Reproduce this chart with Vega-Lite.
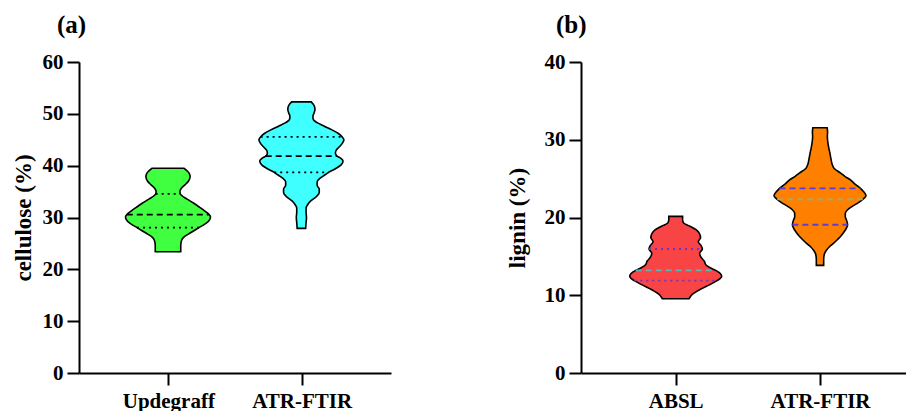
{
  "$schema": "https://vega.github.io/schema/vega-lite/v6.json",
  "background": "white",
  "padding": {"left": 12, "top": 12, "right": 0, "bottom": 0},
  "bounds": "flush",
  "spacing": 190,
  "config": {
    "view": {"stroke": null},
    "font": "Liberation Serif",
    "axis": {
      "grid": false,
      "domainColor": "black",
      "domainWidth": 2,
      "tickColor": "black",
      "tickWidth": 2,
      "tickSize": 12,
      "labelColor": "black",
      "titleColor": "black",
      "labelFont": "Liberation Serif",
      "titleFont": "Liberation Serif",
      "labelFontWeight": "bold",
      "titleFontWeight": "bold",
      "labelFontSize": 21,
      "titleFontSize": 23
    },
    "title": {
      "font": "Liberation Serif",
      "fontSize": 25,
      "fontWeight": "bold",
      "color": "black",
      "anchor": "start",
      "frame": "group",
      "baseline": "alphabetic"
    }
  },
  "datasets": {
    "cellulose": [
      {"method": "Updegraff", "value": 23.4, "density": 0.30},
      {"method": "Updegraff", "value": 24.5, "density": 0.30},
      {"method": "Updegraff", "value": 25.3, "density": 0.31},
      {"method": "Updegraff", "value": 25.9, "density": 0.34},
      {"method": "Updegraff", "value": 26.4, "density": 0.40},
      {"method": "Updegraff", "value": 27.0, "density": 0.52},
      {"method": "Updegraff", "value": 27.5, "density": 0.62},
      {"method": "Updegraff", "value": 28.05, "density": 0.73, "stat": "quartile"},
      {"method": "Updegraff", "value": 28.9, "density": 0.90},
      {"method": "Updegraff", "value": 29.6, "density": 0.98},
      {"method": "Updegraff", "value": 30.1, "density": 1.0},
      {"method": "Updegraff", "value": 30.55, "density": 0.97, "stat": "median"},
      {"method": "Updegraff", "value": 31.3, "density": 0.86},
      {"method": "Updegraff", "value": 32.0, "density": 0.74},
      {"method": "Updegraff", "value": 32.8, "density": 0.60},
      {"method": "Updegraff", "value": 33.6, "density": 0.44},
      {"method": "Updegraff", "value": 34.2, "density": 0.33},
      {"method": "Updegraff", "value": 34.55, "density": 0.29, "stat": "quartile"},
      {"method": "Updegraff", "value": 35.0, "density": 0.28},
      {"method": "Updegraff", "value": 35.6, "density": 0.31},
      {"method": "Updegraff", "value": 36.3, "density": 0.40},
      {"method": "Updegraff", "value": 37.0, "density": 0.48},
      {"method": "Updegraff", "value": 37.8, "density": 0.52},
      {"method": "Updegraff", "value": 38.5, "density": 0.50},
      {"method": "Updegraff", "value": 39.0, "density": 0.45},
      {"method": "Updegraff", "value": 39.5, "density": 0.38},
      {"method": "ATR-FTIR", "value": 27.9, "density": 0.10},
      {"method": "ATR-FTIR", "value": 29.0, "density": 0.11},
      {"method": "ATR-FTIR", "value": 30.0, "density": 0.12},
      {"method": "ATR-FTIR", "value": 31.0, "density": 0.11},
      {"method": "ATR-FTIR", "value": 31.8, "density": 0.11},
      {"method": "ATR-FTIR", "value": 32.5, "density": 0.15},
      {"method": "ATR-FTIR", "value": 33.2, "density": 0.22},
      {"method": "ATR-FTIR", "value": 34.0, "density": 0.35},
      {"method": "ATR-FTIR", "value": 34.8, "density": 0.42},
      {"method": "ATR-FTIR", "value": 35.5, "density": 0.42},
      {"method": "ATR-FTIR", "value": 36.2, "density": 0.37},
      {"method": "ATR-FTIR", "value": 36.9, "density": 0.37},
      {"method": "ATR-FTIR", "value": 37.6, "density": 0.44},
      {"method": "ATR-FTIR", "value": 38.2, "density": 0.55},
      {"method": "ATR-FTIR", "value": 38.7, "density": 0.64, "stat": "quartile"},
      {"method": "ATR-FTIR", "value": 39.4, "density": 0.80},
      {"method": "ATR-FTIR", "value": 40.2, "density": 0.94},
      {"method": "ATR-FTIR", "value": 40.9, "density": 0.98},
      {"method": "ATR-FTIR", "value": 41.4, "density": 0.93},
      {"method": "ATR-FTIR", "value": 41.85, "density": 0.84, "stat": "median"},
      {"method": "ATR-FTIR", "value": 42.4, "density": 0.80},
      {"method": "ATR-FTIR", "value": 43.0, "density": 0.82},
      {"method": "ATR-FTIR", "value": 43.7, "density": 0.90},
      {"method": "ATR-FTIR", "value": 44.4, "density": 0.97},
      {"method": "ATR-FTIR", "value": 45.0, "density": 1.0},
      {"method": "ATR-FTIR", "value": 45.55, "density": 0.96, "stat": "quartile"},
      {"method": "ATR-FTIR", "value": 46.2, "density": 0.87},
      {"method": "ATR-FTIR", "value": 46.9, "density": 0.72},
      {"method": "ATR-FTIR", "value": 47.6, "density": 0.54},
      {"method": "ATR-FTIR", "value": 48.3, "density": 0.37},
      {"method": "ATR-FTIR", "value": 48.9, "density": 0.28},
      {"method": "ATR-FTIR", "value": 49.5, "density": 0.27},
      {"method": "ATR-FTIR", "value": 50.2, "density": 0.30},
      {"method": "ATR-FTIR", "value": 50.9, "density": 0.32},
      {"method": "ATR-FTIR", "value": 51.6, "density": 0.30},
      {"method": "ATR-FTIR", "value": 52.3, "density": 0.23}
    ],
    "lignin": [
      {"method": "ABSL", "value": 9.55, "density": 0.29},
      {"method": "ABSL", "value": 10.1, "density": 0.36},
      {"method": "ABSL", "value": 10.7, "density": 0.52},
      {"method": "ABSL", "value": 11.3, "density": 0.72},
      {"method": "ABSL", "value": 11.87, "density": 0.90, "stat": "quartile"},
      {"method": "ABSL", "value": 12.4, "density": 1.0},
      {"method": "ABSL", "value": 12.8, "density": 0.97},
      {"method": "ABSL", "value": 13.2, "density": 0.87, "stat": "median"},
      {"method": "ABSL", "value": 13.5, "density": 0.76},
      {"method": "ABSL", "value": 13.9, "density": 0.66},
      {"method": "ABSL", "value": 14.4, "density": 0.62},
      {"method": "ABSL", "value": 14.9, "density": 0.55},
      {"method": "ABSL", "value": 15.4, "density": 0.52},
      {"method": "ABSL", "value": 15.95, "density": 0.58, "stat": "quartile"},
      {"method": "ABSL", "value": 16.4, "density": 0.55},
      {"method": "ABSL", "value": 16.9, "density": 0.49},
      {"method": "ABSL", "value": 17.4, "density": 0.54},
      {"method": "ABSL", "value": 17.9, "density": 0.52},
      {"method": "ABSL", "value": 18.4, "density": 0.45},
      {"method": "ABSL", "value": 18.9, "density": 0.30},
      {"method": "ABSL", "value": 19.3, "density": 0.17},
      {"method": "ABSL", "value": 19.7, "density": 0.15},
      {"method": "ABSL", "value": 20.15, "density": 0.15},
      {"method": "ATR-FTIR", "value": 13.84, "density": 0.08},
      {"method": "ATR-FTIR", "value": 14.6, "density": 0.08},
      {"method": "ATR-FTIR", "value": 15.3, "density": 0.095},
      {"method": "ATR-FTIR", "value": 15.8, "density": 0.14},
      {"method": "ATR-FTIR", "value": 16.2, "density": 0.20},
      {"method": "ATR-FTIR", "value": 16.6, "density": 0.28},
      {"method": "ATR-FTIR", "value": 17.1, "density": 0.37},
      {"method": "ATR-FTIR", "value": 17.6, "density": 0.45},
      {"method": "ATR-FTIR", "value": 18.2, "density": 0.53},
      {"method": "ATR-FTIR", "value": 18.7, "density": 0.58},
      {"method": "ATR-FTIR", "value": 19.07, "density": 0.60, "stat": "quartile"},
      {"method": "ATR-FTIR", "value": 19.6, "density": 0.58},
      {"method": "ATR-FTIR", "value": 20.1, "density": 0.55},
      {"method": "ATR-FTIR", "value": 20.5, "density": 0.55},
      {"method": "ATR-FTIR", "value": 21.0, "density": 0.60},
      {"method": "ATR-FTIR", "value": 21.5, "density": 0.72},
      {"method": "ATR-FTIR", "value": 22.0, "density": 0.86},
      {"method": "ATR-FTIR", "value": 22.33, "density": 0.93, "stat": "median"},
      {"method": "ATR-FTIR", "value": 22.8, "density": 1.0},
      {"method": "ATR-FTIR", "value": 23.3, "density": 0.95},
      {"method": "ATR-FTIR", "value": 23.75, "density": 0.88, "stat": "quartile"},
      {"method": "ATR-FTIR", "value": 24.3, "density": 0.76},
      {"method": "ATR-FTIR", "value": 24.8, "density": 0.67},
      {"method": "ATR-FTIR", "value": 25.3, "density": 0.54},
      {"method": "ATR-FTIR", "value": 25.7, "density": 0.45},
      {"method": "ATR-FTIR", "value": 26.3, "density": 0.31},
      {"method": "ATR-FTIR", "value": 26.75, "density": 0.27},
      {"method": "ATR-FTIR", "value": 27.5, "density": 0.24},
      {"method": "ATR-FTIR", "value": 28.3, "density": 0.215},
      {"method": "ATR-FTIR", "value": 29.0, "density": 0.19},
      {"method": "ATR-FTIR", "value": 29.7, "density": 0.17},
      {"method": "ATR-FTIR", "value": 30.4, "density": 0.16},
      {"method": "ATR-FTIR", "value": 31.0, "density": 0.165},
      {"method": "ATR-FTIR", "value": 31.55, "density": 0.155}
    ]
  },
  "hconcat": [
    {
      "width": 312,
      "height": 311,
      "title": {"text": "(a)", "dx": -22, "offset": 13.3},
      "data": {"name": "cellulose"},
      "resolve": {"scale": {"x": "independent"}},
      "layer": [
        {
          "transform": [
            {"filter": "datum.method == 'Updegraff'"},
            {"stack": "density", "groupby": ["value"], "offset": "center", "as": ["x0", "x1"]}
          ],
          "encoding": {
            "y": {"field": "value", "type": "quantitative",
              "scale": {"domain": [0, 60], "nice": false},
              "axis": {"values": [0, 10, 20, 30, 40, 50, 60], "title": "cellulose (%)", "labelPadding": 4,
                "titleX": -49, "titleY": 155.5, "titleAngle": -90, "titleAlign": "center", "titleBaseline": "alphabetic"}},
            "x": {"field": "x0", "type": "quantitative", "scale": {"domain": [-0.5471, 3.1235], "nice": false, "zero": false}, "axis": null},
            "x2": {"field": "x1"}
          },
          "layer": [
            {"mark": {"type": "area", "orient": "horizontal", "interpolate": "monotone", "fill": "#40FF40", "fillOpacity": 1, "stroke": "black", "strokeWidth": 1.6}},
            {"transform": [{"filter": "datum.stat == 'median'"}], "mark": {"type": "rule", "stroke": "black", "strokeWidth": 1.8, "strokeDash": [6, 4]}},
            {"transform": [{"filter": "datum.stat == 'quartile'"}], "mark": {"type": "rule", "stroke": "black", "strokeWidth": 1.8, "strokeDash": [2, 4]}}
          ]
        },
        {
          "transform": [
            {"filter": "datum.method == 'ATR-FTIR'"},
            {"stack": "density", "groupby": ["value"], "offset": "center", "as": ["x0", "x1"]}
          ],
          "encoding": {
            "y": {"field": "value", "type": "quantitative",
              "scale": {"domain": [0, 60], "nice": false},
              "axis": {"values": [0, 10, 20, 30, 40, 50, 60], "title": "cellulose (%)", "labelPadding": 4,
                "titleX": -49, "titleY": 155.5, "titleAngle": -90, "titleAlign": "center", "titleBaseline": "alphabetic"}},
            "x": {"field": "x0", "type": "quantitative", "scale": {"domain": [-2.1165, 1.5541], "nice": false, "zero": false}, "axis": null},
            "x2": {"field": "x1"}
          },
          "layer": [
            {"mark": {"type": "area", "orient": "horizontal", "interpolate": "monotone", "fill": "#40FFFF", "fillOpacity": 1, "stroke": "black", "strokeWidth": 1.6}},
            {"transform": [{"filter": "datum.stat == 'median'"}], "mark": {"type": "rule", "stroke": "black", "strokeWidth": 1.8, "strokeDash": [6, 4]}},
            {"transform": [{"filter": "datum.stat == 'quartile'"}], "mark": {"type": "rule", "stroke": "black", "strokeWidth": 1.8, "strokeDash": [2, 4]}}
          ]
        },
        {
          "mark": {"type": "point", "opacity": 0},
          "encoding": {
            "x": {"field": "method", "type": "nominal", "sort": ["Updegraff", "ATR-FTIR"],
              "scale": {"type": "point", "padding": 0.67},
              "axis": {"title": null, "labelAngle": 0, "labelPadding": 5, "orient": "bottom"}}
          }
        }
      ]
    },
    {
      "width": 325,
      "height": 311,
      "title": {"text": "(b)", "dx": -25, "offset": 13.3},
      "data": {"name": "lignin"},
      "resolve": {"scale": {"x": "independent"}},
      "layer": [
        {
          "transform": [
            {"filter": "datum.method == 'ABSL'"},
            {"stack": "density", "groupby": ["value"], "offset": "center", "as": ["x0", "x1"]}
          ],
          "encoding": {
            "y": {"field": "value", "type": "quantitative",
              "scale": {"domain": [0, 40], "nice": false},
              "axis": {"values": [0, 10, 20, 30, 40], "title": "lignin (%)", "labelPadding": 4,
                "titleX": -57, "titleY": 155.5, "titleAngle": -90, "titleAlign": "center", "titleBaseline": "alphabetic"}},
            "x": {"field": "x0", "type": "quantitative", "scale": {"domain": [-0.5293, 3.0033], "nice": false, "zero": false}, "axis": null},
            "x2": {"field": "x1"}
          },
          "layer": [
            {"mark": {"type": "area", "orient": "horizontal", "interpolate": "monotone", "fill": "#F84444", "fillOpacity": 1, "stroke": "black", "strokeWidth": 1.6}},
            {"transform": [{"filter": "datum.stat == 'median'"}], "mark": {"type": "rule", "stroke": "#5BB5B5", "strokeWidth": 1.8, "strokeDash": [6, 4]}},
            {"transform": [{"filter": "datum.stat == 'quartile'"}], "mark": {"type": "rule", "stroke": "#6A35D6", "strokeWidth": 1.8, "strokeDash": [2, 4]}}
          ]
        },
        {
          "transform": [
            {"filter": "datum.method == 'ATR-FTIR'"},
            {"stack": "density", "groupby": ["value"], "offset": "center", "as": ["x0", "x1"]}
          ],
          "encoding": {
            "y": {"field": "value", "type": "quantitative",
              "scale": {"domain": [0, 40], "nice": false},
              "axis": {"values": [0, 10, 20, 30, 40], "title": "lignin (%)", "labelPadding": 4,
                "titleX": -57, "titleY": 155.5, "titleAngle": -90, "titleAlign": "center", "titleBaseline": "alphabetic"}},
            "x": {"field": "x0", "type": "quantitative", "scale": {"domain": [-2.0978, 1.4348], "nice": false, "zero": false}, "axis": null},
            "x2": {"field": "x1"}
          },
          "layer": [
            {"mark": {"type": "area", "orient": "horizontal", "interpolate": "monotone", "fill": "#FF8000", "fillOpacity": 1, "stroke": "black", "strokeWidth": 1.6}},
            {"transform": [{"filter": "datum.stat == 'median'"}], "mark": {"type": "rule", "stroke": "#8DB37E", "strokeWidth": 1.8, "strokeDash": [6, 4]}},
            {"transform": [{"filter": "datum.stat == 'quartile'"}], "mark": {"type": "rule", "stroke": "#5A3DDD", "strokeWidth": 1.8, "strokeDash": [6, 4]}}
          ]
        },
        {
          "mark": {"type": "point", "opacity": 0},
          "encoding": {
            "x": {"field": "method", "type": "nominal", "sort": ["ABSL", "ATR-FTIR"],
              "scale": {"type": "point", "padding": 0.626, "align": 0.524},
              "axis": {"title": null, "labelAngle": 0, "labelPadding": 5, "orient": "bottom"}}
          }
        }
      ]
    }
  ]
}
